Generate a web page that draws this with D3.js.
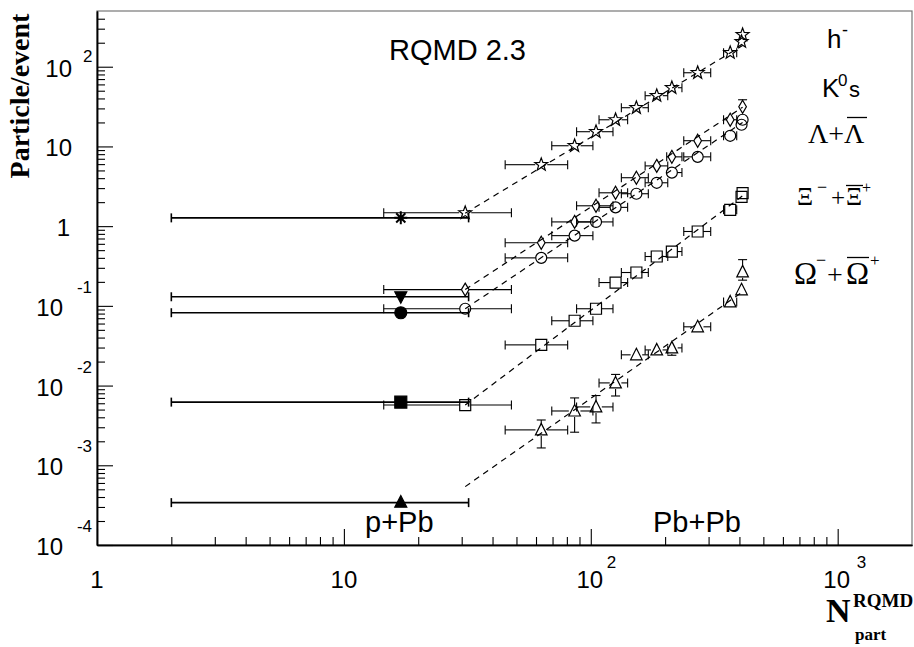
<!DOCTYPE html>
<html><head><meta charset="utf-8">
<script src="https://cdn.jsdelivr.net/npm/d3@7"></script>
<style>body{margin:0;background:#fff}svg{display:block}</style>
</head><body>
<svg id="c" width="914" height="647"></svg>
<script>
// ---- data ----
const binN  = [31, 63, 86, 105, 126, 153, 185, 213, 271, 367, 408, 412];
const binLo = [14.5, 45, 69.5, 87.6, 108, 133, 166, 203, 238, 345, 400, 404];
const binHi = [47.7, 80.6, 102, 123, 141, 171, 205, 234, 306, 390, 416, 420];

const hY    = [1.47, 5.9, 10.2, 15.3, 21.6, 30.6, 43.3, 54.5, 84, 150, 206, 252];
const hYHi  = [null, null, null, null, null, null, null, null, null, null, null, 275];
const kY    = [0.16, 0.62, 1.13, 1.80, 2.62, 4.05, 5.7, 7.4, 11.8, 21.6, null, 31.5];
const kYHi  = [null, null, null, null, null, null, null, null, null, null, null, 38.5];
const lY    = [0.092, 0.40, 0.76, 1.13, 1.72, 2.55, 3.5, 4.7, 7.4, 13.6, 18.7, 21.6];
const xiY   = [0.0057, 0.0324, 0.065, 0.092, 0.196, 0.262, 0.416, 0.48, 0.857, 1.6, 2.33, 2.6];
const xiYLo = [0.0049, null, null, null, null, null, null, null, null, null, null, null];
const xiYHi = [null, null, null, null, null, null, null, null, null, null, null, 3.03];
const oY    = [null, 0.00278, 0.0048, 0.0054, 0.0108, 0.0243, 0.028, 0.0297, 0.0546, 0.112, 0.159, 0.267];
const oYLo  = [null, 0.00165, 0.0026, 0.0034, 0.0074, null, null, 0.024, null, null, null, 0.21];
const oYHi  = [null, 0.0037, 0.0070, 0.0075, 0.0138, null, null, 0.035, null, null, null, 0.38];

// p+Pb points (one per species: h-, K0s, Lambda, Xi, Omega)
const ppX = 17, ppLo = 2, ppHi = 32;
const ppY = [1.27, 0.13, 0.082, 0.0062, 0.00034];

// power-law guide lines (Pb+Pb) from fitX[0] to fitX[1]
const fitX  = [31, 412];
const hFit  = [1.45, 185];
const kFit  = [0.16, 31];
const lFit  = [0.092, 20];
const xiFit = [0.0057, 2.4];
const oFit  = [0.00054, 0.15];

const xMajor = [1, 10, 100, 1000];
const yMajor = [1e-4, 1e-3, 1e-2, 1e-1, 1, 10, 100];

// ---- setup ----
const svg = d3.select("#c");
const X = d3.scaleLog().domain([1, 2000]).range([97, 912]);
const Y = d3.scaleLog().domain([1e-4, 500]).range([545, 11]);
const SANS = "'Liberation Sans', Arial, sans-serif";
const SERIF = "'Liberation Serif', 'Times New Roman', serif";

// frame
svg.append("rect").attr("x", 97).attr("y", 11).attr("width", 815).attr("height", 534)
  .attr("fill", "none").attr("stroke", "#777").attr("stroke-width", 1.2);

// minor tick values
const xMinor = [], yMinor = [];
[1, 10, 100].forEach(d => { for (let k = 2; k <= 9; k++) xMinor.push(d * k); });
[1e-4, 1e-3, 1e-2, 1e-1, 1, 10].forEach(d => { for (let k = 2; k <= 9; k++) yMinor.push(d * k); });
[200, 300, 400].forEach(v => yMinor.push(v));

const gx = svg.append("g").attr("transform", "translate(0,545)");
gx.call(d3.axisBottom(X).tickValues(xMajor).tickSize(-16).tickFormat("").tickSizeOuter(0));
gx.append("g").call(d3.axisBottom(X).tickValues(xMinor).tickSize(-8).tickFormat("").tickSizeOuter(0));
const gy = svg.append("g").attr("transform", "translate(97,0)");
gy.call(d3.axisLeft(Y).tickValues(yMajor).tickSize(-16).tickFormat("").tickSizeOuter(0));
gy.append("g").call(d3.axisLeft(Y).tickValues(yMinor).tickSize(-8).tickFormat("").tickSizeOuter(0));
svg.selectAll(".domain").attr("stroke", "#000").attr("stroke-width", 1.5);
svg.selectAll(".tick line").attr("stroke", "#000").attr("stroke-width", 1.1);

// tick labels
function txt(x, y, s, size, anchor, fam, weight) {
  return svg.append("text").attr("x", x).attr("y", y).attr("font-size", size)
    .attr("font-family", fam || SANS).attr("text-anchor", anchor || "start")
    .attr("font-weight", weight || "normal").attr("fill", "#000").text(s);
}
xMajor.forEach(v => {
  const e = Math.round(Math.log10(v)), px = X(v);
  if (e === 0) txt(px, 588, "1", 24, "middle");
  else if (e === 1) txt(px, 588, "10", 24, "middle");
  else { txt(px - 1, 588, "10", 24, "middle"); txt(px + 16 + (e === 3 ? 3 : 0), 568, String(e), 17, "start"); }
});
yMajor.forEach(v => {
  const e = Math.round(Math.log10(v)), py = Y(v);
  if (e === 0) txt(70, py + 10, "1", 24, "end");
  else if (e === 1) txt(72, py + 10, "10", 24, "end");
  else if (e > 0) { txt(72, py + 10, "10", 24, "end"); txt(83, py - 5, String(e), 17, "start"); }
  else { txt(63, py + 10, "10", 24, "end"); txt(92, py - 13, String(e), 17, "end"); }
});

// axis titles
txt(0, 0, "Particle/event", 28, "middle", SERIF, "bold").attr("transform", "translate(29,96) rotate(-90)");
txt(826, 622, "N", 34, "start", SERIF, "bold");
txt(853, 607, "RQMD", 19, "start", SERIF, "bold");
txt(855, 640, "part", 17, "start", SERIF, "bold");

// annotations
txt(389, 60, "RQMD 2.3", 29, "start");
txt(365, 532, "p+Pb", 29, "start");
txt(653, 532, "Pb+Pb", 29, "start");

// legend labels
txt(827, 48, "h", 26, "start"); txt(842, 36, "-", 18, "start");
txt(822, 97, "K", 26, "start"); txt(838, 86, "0", 17, "start"); txt(849, 97, "s", 22, "start");
txt(808, 143, "Λ+Λ", 28, "start", SERIF);
svg.append("line").attr("x1", 847).attr("x2", 867).attr("y1", 117.5).attr("y2", 117.5).attr("stroke", "#000").attr("stroke-width", 1.3);
txt(797, 205, "Ξ", 25, "start", SERIF); txt(817, 193, "−", 18, "start", SERIF);
txt(831, 206, "+", 25, "start", SERIF); txt(846, 205, "Ξ", 25, "start", SERIF);
txt(862, 193, "+", 16, "start", SERIF);
svg.append("line").attr("x1", 846).attr("x2", 863).attr("y1", 185.5).attr("y2", 185.5).attr("stroke", "#000").attr("stroke-width", 1.3);
txt(794, 284, "Ω", 31, "start", SERIF); txt(816, 266, "−", 18, "start", SERIF);
txt(827, 284, "+", 28, "start", SERIF); txt(846, 284, "Ω", 31, "start", SERIF);
txt(870, 266, "+", 17, "start", SERIF);
svg.append("line").attr("x1", 847).attr("x2", 869).attr("y1", 257.5).attr("y2", 257.5).attr("stroke", "#000").attr("stroke-width", 1.3);

// ---- markers ----
function starPath(R, r) {
  let p = "";
  for (let i = 0; i < 10; i++) {
    const a = -Math.PI / 2 + i * Math.PI / 5, rr = i % 2 ? r : R;
    p += (i ? "L" : "M") + (rr * Math.cos(a)).toFixed(2) + "," + (rr * Math.sin(a)).toFixed(2);
  }
  return p + "Z";
}
const shapes = {
  star:    { d: starPath(6.8, 2.8), hw: 6, hh: 6, fill: "none" },
  diamond: { d: "M0,-6.5L3.8,0L0,6.5L-3.8,0Z", hw: 3.8, hh: 6.5, fill: "none" },
  circle:  { d: d3.symbol(d3.symbolCircle, Math.PI * 5.5 * 5.5)(), hw: 5.5, hh: 5.5, fill: "none" },
  square:  { d: "M-5.5,-5.5H5.5V5.5H-5.5Z", hw: 5.5, hh: 5.5, fill: "none" },
  tri:     { d: "M0,-6.5L5.8,5L-5.8,5Z", hw: 5.8, hh: 6, fill: "none" },
  ast:     { d: "M0,-6.5V6.5M-6.5,0H6.5M-4.6,-4.6L4.6,4.6M-4.6,4.6L4.6,-4.6", hw: 0, hh: 0, fill: "none", sw: 2 },
  ftriD:   { d: "M0,6.5L6,-5L-6,-5Z", hw: 0, hh: 0, fill: "#000" },
  fcircle: { d: d3.symbol(d3.symbolCircle, Math.PI * 6 * 6)(), hw: 0, hh: 0, fill: "#000" },
  fsquare: { d: "M-6,-6H6V6H-6Z", hw: 0, hh: 0, fill: "#000" },
  ftri:    { d: "M0,-7L6,4.5L-6,4.5Z", hw: 0, hh: 0, fill: "#000" }
};

const series = [
  { y: hY,  lo: null,  hi: hYHi,  open: "star",    fill: "ast",     pp: ppY[0], fit: hFit },
  { y: kY,  lo: null,  hi: kYHi,  open: "diamond", fill: "ftriD",   pp: ppY[1], fit: kFit },
  { y: lY,  lo: null,  hi: null,  open: "circle",  fill: "fcircle", pp: ppY[2], fit: lFit },
  { y: xiY, lo: xiYLo, hi: xiYHi, open: "square",  fill: "fsquare", pp: ppY[3], fit: xiFit },
  { y: oY,  lo: oYLo,  hi: oYHi,  open: "tri",     fill: "ftri",    pp: ppY[4], fit: oFit }
];

const gFit = svg.append("g"), gErr = svg.append("g"), gMk = svg.append("g");

// guide lines
series.forEach(s => {
  gFit.append("line").attr("x1", X(fitX[0])).attr("y1", Y(s.fit[0]))
    .attr("x2", X(fitX[1])).attr("y2", Y(s.fit[1]))
    .attr("stroke", "#000").attr("stroke-width", 1.2).attr("stroke-dasharray", "6,5");
});

function seg(x1, y1, x2, y2, w) {
  gErr.append("line").attr("x1", x1).attr("y1", y1).attr("x2", x2).attr("y2", y2)
    .attr("stroke", "#000").attr("stroke-width", w || 1.1);
}
function errX(px, py, lo, hi, gap, w) {
  const a = X(lo), b = X(hi);
  if (px - gap > a + 0.5) { seg(a, py, px - gap, py, w); seg(a, py - 4.5, a, py + 4.5, w); }
  if (b > px + gap + 0.5) { seg(px + gap, py, b, py, w); seg(b, py - 4.5, b, py + 4.5, w); }
}
function errY(px, py, lo, hi, gap) {
  if (hi != null && Y(hi) < py - gap) { seg(px, py - gap, px, Y(hi)); seg(px - 4.5, Y(hi), px + 4.5, Y(hi)); }
  if (lo != null && Y(lo) > py + gap) { seg(px, py + gap, px, Y(lo)); seg(px - 4.5, Y(lo), px + 4.5, Y(lo)); }
}
function mark(type, px, py) {
  const sh = shapes[type];
  gMk.append("path").attr("d", sh.d).attr("transform", `translate(${px},${py})`)
    .attr("fill", sh.fill).attr("stroke", "#000").attr("stroke-width", sh.sw || 1.2);
}

series.forEach(s => {
  // p+Pb
  const qx = X(ppX), qy = Y(s.pp);
  errX(qx, qy, ppLo, ppHi, 0, 1.6);
  mark(s.fill, qx, qy);
  // Pb+Pb
  const sh = shapes[s.open];
  s.y.forEach((v, i) => {
    if (v == null) return;
    const px = X(binN[i]), py = Y(v);
    errX(px, py, binLo[i], binHi[i], sh.hw);
    errY(px, py, s.lo ? s.lo[i] : null, s.hi ? s.hi[i] : null, sh.hh);
    mark(s.open, px, py);
  });
});
</script>
</body></html>
